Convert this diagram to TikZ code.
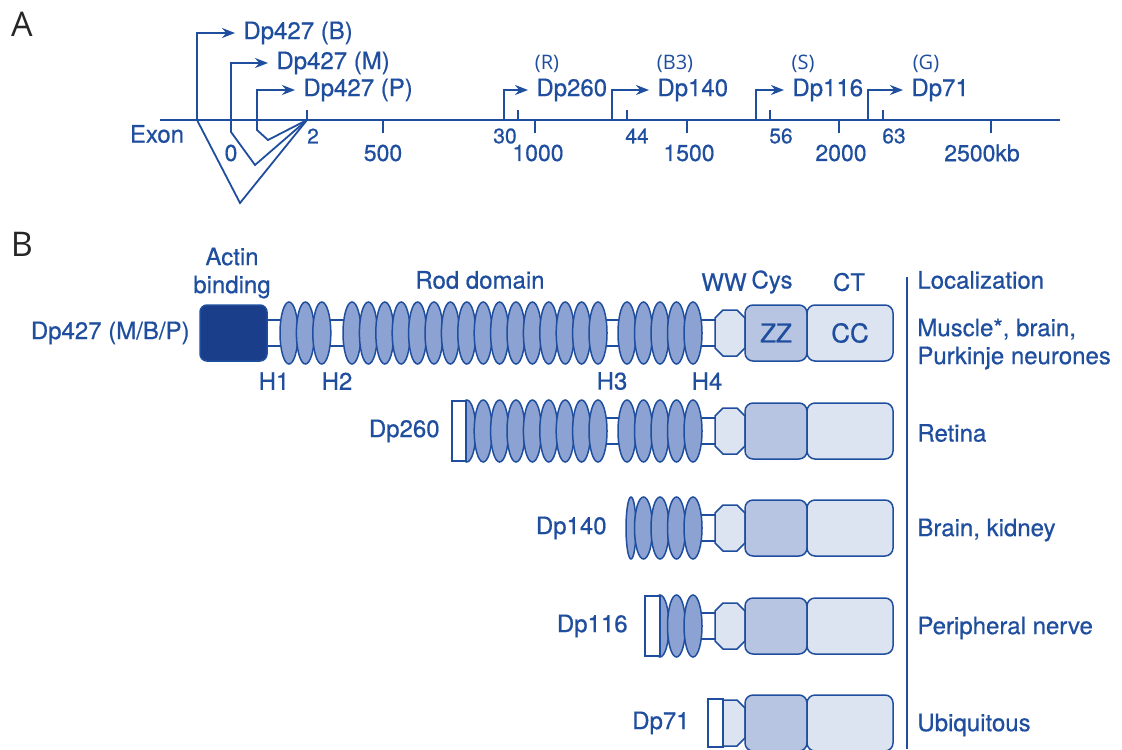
\documentclass[tikz,border=0pt]{standalone}
\usepackage{fontspec}
\setmainfont{TeX Gyre Heros}[FakeBold=0.6]
\newfontfamily\thinfont{Open Sans}
\usepackage{xcolor}
\usepackage{tikz}
\usetikzlibrary{arrows.meta}
\definecolor{dmd}{HTML}{1F4E9E}
\definecolor{abdc}{HTML}{1B3E8A}
\definecolor{repc}{HTML}{8CA2D2}
\definecolor{cysc}{HTML}{B7C5E2}
\definecolor{ctc}{HTML}{DDE4F1}
% WW, Cys and CT part of one isoform row
\newcommand{\ctail}[1]{%
  \draw[wwd] (715,#1-15) -- (723,#1-23) -- (737,#1-23) -- (745,#1-15) -- (745,#1+15) -- (737,#1+23) -- (723,#1+23) -- (715,#1+15) -- cycle;
  \draw[cysd] (745,#1-28) rectangle (807,#1+28);
  \draw[ctd] (807,#1-28) rectangle (893,#1+28);}

\begin{document}
\begin{tikzpicture}[x=0.5pt, y=-0.5pt,
  lbl/.style={font=\fontsize{12}{14}\selectfont, text=dmd, inner sep=1pt},
  prm/.style={lbl, anchor=west, inner xsep=4pt},
  num/.style={font=\fontsize{11.5}{13}\selectfont, text=dmd, inner sep=1pt},
  exn/.style={font=\fontsize{10.5}{12}\selectfont, text=dmd, inner sep=1pt},
  iso/.style={font=\thinfont\fontsize{10}{12}\selectfont, text=dmd, inner sep=1pt},
  pan/.style={font=\thinfont\fontsize{17}{20}\selectfont, text=black!85, inner sep=0pt},
  ln/.style={draw=dmd, line width=0.9pt},
  rep/.style={draw=dmd, fill=repc, line width=0.75pt},
  lnk/.style={draw=dmd, fill=white, line width=0.75pt},
  abd/.style={draw=dmd, fill=abdc, line width=0.75pt, rounded corners=3.5pt},
  wwd/.style={draw=dmd, fill=ctc, line width=0.75pt},
  cysd/.style={draw=dmd, fill=cysc, line width=0.75pt, rounded corners=4pt},
  ctd/.style={draw=dmd, fill=ctc, line width=0.75pt, rounded corners=4pt},
  >={Stealth[length=6.5pt, width=5pt]}]
\useasboundingbox (0,0) rectangle (1122,749);
\node[pan] (pnA) at (22,24) {A};
\node[pan] (pnB) at (22,244) {B};
% gene map
\coordinate (ax0) at (160,120);
\coordinate (ax1) at (1060,120);
\coordinate (ex2) at (307,120);
\draw[ln, line width=1pt] (ax0) -- (ax1);
\node[lbl] (exon) at (157,134) {Exon};
\foreach \x in {307,518,627,770,883} \draw[ln] (\x,120) -- (\x,110);
\foreach \x/\t in {313/2,505/30,637/44,781/56,894/63} \node[exn] (e\t) at (\x,136) {\t};
\foreach \x in {383,535,687,839,991} \draw[ln] (\x,120) -- (\x,133);
\foreach \x/\t in {231/0,383/500,538/1000,689/1500,841/2000} \node[num] (k\t) at (\x,153) {\t};
\node[num] (k2500) at (982,153) {2500kb};
% full-length promoters
\coordinate (pB) at (197,120);
\coordinate (pM) at (231,120);
\coordinate (pP) at (257,120);
\node[prm] (dB) at (235,33) {Dp427 (B)};
\node[prm] (dM) at (268,63) {Dp427 (M)};
\node[prm] (dP) at (295,90) {Dp427 (P)};
\draw[ln, ->] (pB) |- (dB.west);
\draw[ln, ->] (pM) |- (dM.west);
\draw[ln, ->] (pP) |- (dP.west);
\draw[ln] (pB) -- (240,203) -- (ex2);
\draw[ln] (pM) -- (231,132) -- (255,165) -- (ex2);
\draw[ln] (pP) -- (257,130) -- (268,140) -- (ex2);
% internal promoters
\foreach \px/\tx/\nm/\is/\ix in {504/528/Dp260/R/547, 612/649/Dp140/B3/675, 756/784/Dp116/S/803, 868/903/Dp71/G/926} {
  \coordinate (p\nm) at (\px,120);
  \node[prm] (d\nm) at (\tx,90) {\nm};
  \draw[ln, ->] (p\nm) |- (d\nm.west);
  \node[iso] (i\nm) at (\ix,64) {(\is)};
}
% domain headings
\node[lbl, align=center] (hab) at (232,273) {Actin\\binding};
\node[lbl] (hrod) at (480,280) {Rod domain};
\node[lbl] (hww) at (724,282) {WW};
\node[lbl] (hcys) at (772,282) {Cys};
\node[lbl] (hct) at (849,282) {CT};
\node[lbl, anchor=west] (hloc) at (915,280) {Localization};
\coordinate (lv0) at (907,277);
\coordinate (lv1) at (907,749);
\draw[ln] (lv0) -- (lv1);
% linkers (behind)
\draw[lnk] (262,320) rectangle (284,346);
\draw[lnk] (326,320) rectangle (348,346);
\foreach \y in {333,431} \draw[lnk] (602,\y-13) rectangle (623,\y+13);
\foreach \y in {333,431,528,626} \draw[lnk] (697,\y-13) rectangle (716,\y+13);
% Dp427
\draw[abd] (200,305) rectangle (267,361);
\foreach \k in {0,1,2} \draw[rep] ({289+16.4*\k},333) ellipse [x radius=4.5pt, y radius=15.5pt];
\foreach \k in {0,...,15} \draw[rep] ({352+16.4*\k},333) ellipse [x radius=4.5pt, y radius=15.5pt];
\foreach \k in {0,...,4} \draw[rep] ({627+16.5*\k},333) ellipse [x radius=4.5pt, y radius=15.5pt];
\ctail{333}
\node[lbl, font=\fontsize{13}{15}\selectfont] (zz) at (776,333) {ZZ};
\node[lbl, font=\fontsize{13}{15}\selectfont] (cc) at (850,333) {CC};
\node[lbl, anchor=east] (r1) at (192,333) {Dp427 (M/B/P)};
\foreach \t/\x in {H1/274,H2/337,H3/612,H4/707} \node[lbl] (\t) at (\x,381) {\t};
% Dp260
\foreach \k in {7,...,15} \draw[rep] ({352+16.4*\k},431) ellipse [x radius=4.5pt, y radius=15.5pt];
\draw[lnk] (452,401) rectangle (466,461);
\foreach \k in {0,...,4} \draw[rep] ({627+16.5*\k},431) ellipse [x radius=4.5pt, y radius=15.5pt];
\ctail{431}
\node[lbl, anchor=east] (r2) at (442,431) {Dp260};
% Dp140
\draw[rep] (631,528) ellipse [x radius=2.5pt, y radius=15.5pt];
\foreach \k in {1,...,4} \draw[rep] ({627+16.5*\k},528) ellipse [x radius=4.5pt, y radius=15.5pt];
\ctail{528}
\node[lbl, anchor=east] (r3) at (609,528) {Dp140};
% Dp116
\foreach \k in {2,3,4} \draw[rep] ({627+16.5*\k},626) ellipse [x radius=4.5pt, y radius=15.5pt];
\draw[lnk] (645,596) rectangle (660,656);
\ctail{626}
\node[lbl, anchor=east] (r4) at (630,626) {Dp116};
% Dp71
\draw[lnk] (708,699) rectangle (723,747);
\draw[wwd] (723,700) -- (737,700) -- (745,708) -- (745,738) -- (737,746) -- (723,746) -- cycle;
\draw[cysd] (745,695) rectangle (807,751);
\draw[ctd] (807,695) rectangle (893,751);
\node[lbl, anchor=east] (r5) at (692,723) {Dp71};
% localization
\node[lbl, anchor=west, align=left] (loc1) at (915,344) {Muscle*, brain,\\Purkinje neurones};
\node[lbl, anchor=west] (loc2) at (915,433) {Retina};
\node[lbl, anchor=west] (loc3) at (915,530) {Brain, kidney};
\node[lbl, anchor=west] (loc4) at (915,628) {Peripheral nerve};
\node[lbl, anchor=west] (loc5) at (915,725) {Ubiquitous};
\end{tikzpicture}
\end{document}
